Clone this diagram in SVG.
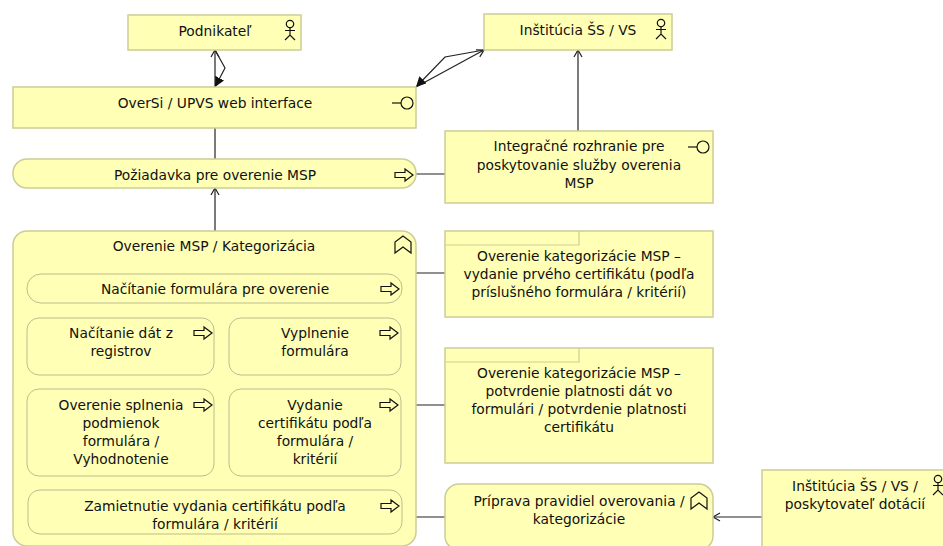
<svg xmlns="http://www.w3.org/2000/svg" width="943" height="546" viewBox="0 0 943 546">
<style>
.n{fill:#ffffb5;stroke:#cdcd96;stroke-width:1.5}
.t{fill:none;stroke:#cdcd96;stroke-width:1.2}
.s{fill:#ffffb5;stroke:#bdbd90;stroke-width:1}
.c{fill:none;stroke:#222;stroke-width:1.2}
.i{fill:none;stroke:#111;stroke-width:1.2}
text{font-family:"DejaVu Sans","Liberation Sans",sans-serif;font-size:13.8px;fill:#111;text-anchor:middle}
</style>
<defs>
<marker id="open" markerWidth="12" markerHeight="12" refX="8" refY="5" orient="auto" markerUnits="userSpaceOnUse"><path d="M1 1L8 5L1 9" fill="none" stroke="#222" stroke-width="1.2"/></marker>
<marker id="fill" markerWidth="12" markerHeight="12" refX="10" refY="5" orient="auto" markerUnits="userSpaceOnUse"><path d="M0 0L10 5L0 10Z" fill="#111"/></marker>
<g id="actor"><circle cx="0" cy="-6" r="3.7" class="i"/><path d="M0-2.3V5M-5 0.5H5M-5 10L0 5L5 10" class="i"/></g>
<g id="iface"><circle cx="7" cy="0" r="6" class="i"/><path d="M-8 0H1" class="i"/></g>
<path id="proc" d="M-9-2.5H1V-6L9 0L1 6V2.5H-9Z" class="i"/>
<path id="fn" d="M-8 8V-3L0-9L8-3V8L0 2Z" class="i"/>
</defs>
<g id="connectors">
<path class="c" d="M215 128V159"/>
<path class="c" d="M215 231V188" marker-end="url(#open)"/>
<path class="c" d="M578 131V50" marker-end="url(#open)"/>
<path class="c" d="M416 174H445M416 273H445M416 405H445M416 517H445"/>
<path class="c" d="M762 517H713" marker-end="url(#open)"/>
<path class="c" d="M215 87V50" marker-end="url(#open)"/>
<path class="c" d="M215 50L225 68L215 87" marker-end="url(#fill)"/>
<path class="c" d="M416 87L484 50" marker-end="url(#open)"/>
<path class="c" d="M484 50L445 57L416 87" marker-end="url(#fill)"/>
</g>
<g id="podnikatel"><rect class="n" x="128" y="15" width="173" height="35"/><text x="215" y="36">Podnikateľ</text><use href="#actor" x="290" y="30"/></g>
<g id="institucia"><rect class="n" x="484" y="14" width="188" height="36"/><text x="578" y="35">Inštitúcia ŠS / VS</text><use href="#actor" x="661" y="29"/></g>
<g id="oversi"><rect class="n" x="13" y="87" width="403" height="41"/><text x="215" y="108">OverSi / UPVS web interface</text><use href="#iface" x="400" y="103"/></g>
<g id="poziadavka"><rect class="n" x="13" y="159" width="403" height="29" rx="14"/><text x="215" y="180">Požiadavka pre overenie MSP</text><use href="#proc" x="404" y="175"/></g>
<g id="integracne"><rect class="n" x="445" y="131" width="268" height="72"/><text x="579" y="151">Integračné rozhranie pre</text><text x="579" y="170">poskytovanie služby overenia</text><text x="579" y="188">MSP</text><use href="#iface" x="696" y="147"/></g>
<g id="overenie"><rect class="n" x="13" y="231" width="403" height="315" rx="14"/><text x="214" y="251">Overenie MSP / Kategorizácia</text><use href="#fn" x="403" y="245"/></g>
<g id="nacitanie-form"><rect class="s" x="27" y="274" width="375" height="29" rx="14"/><text x="215" y="294">Načítanie formulára pre overenie</text><use href="#proc" x="390" y="289"/></g>
<g id="nacitanie-dat"><rect class="s" x="27" y="318" width="187" height="57" rx="12"/><text x="121" y="338">Načítanie dát z</text><text x="121" y="356">registrov</text><use href="#proc" x="203" y="333"/></g>
<g id="vyplnenie"><rect class="s" x="229" y="318" width="172" height="57" rx="12"/><text x="315" y="338">Vyplnenie</text><text x="315" y="356">formulára</text><use href="#proc" x="389" y="333"/></g>
<g id="overenie-splnenia"><rect class="s" x="27" y="389" width="187" height="87" rx="12"/><text x="121" y="410">Overenie splnenia</text><text x="121" y="428">podmienok</text><text x="121" y="446">formulára /</text><text x="121" y="464">Vyhodnotenie</text><use href="#proc" x="203" y="405"/></g>
<g id="vydanie"><rect class="s" x="229" y="389" width="172" height="87" rx="12"/><text x="315" y="410">Vydanie</text><text x="315" y="428">certifikátu podľa</text><text x="315" y="446">formulára /</text><text x="315" y="464">kritérií</text><use href="#proc" x="389" y="405"/></g>
<g id="zamietnutie"><rect class="s" x="28" y="490" width="374" height="44" rx="12"/><text x="215" y="511">Zamietnutie vydania certifikátu podľa</text><text x="215" y="529">formulára / kritérií</text><use href="#proc" x="390" y="506"/></g>
<g id="kategorizacia-1"><rect class="n" x="445" y="231" width="268" height="86"/><path class="t" d="M445 245H579V231"/><text x="579" y="261">Overenie kategorizácie MSP –</text><text x="579" y="279">vydanie prvého certifikátu (podľa</text><text x="579" y="297">príslušného formulára / kritérií)</text></g>
<g id="kategorizacia-2"><rect class="n" x="445" y="348" width="268" height="115"/><path class="t" d="M445 362H579V348"/><text x="579" y="378">Overenie kategorizácie MSP –</text><text x="579" y="396">potvrdenie platnosti dát vo</text><text x="579" y="414">formulári / potvrdenie platnosti</text><text x="579" y="432">certifikátu</text></g>
<g id="priprava"><rect class="n" x="445" y="484" width="268" height="66" rx="14"/><text x="579" y="506">Príprava pravidiel overovania /</text><text x="579" y="524">kategorizácie</text><use href="#fn" x="699" y="501"/></g>
<g id="institucia-dotacie"><rect class="n" x="762" y="470" width="200" height="90"/><text x="855" y="491">Inštitúcia ŠS / VS /</text><text x="855" y="509">poskytovateľ dotácií</text><use href="#actor" x="938" y="485"/></g>
</svg>
